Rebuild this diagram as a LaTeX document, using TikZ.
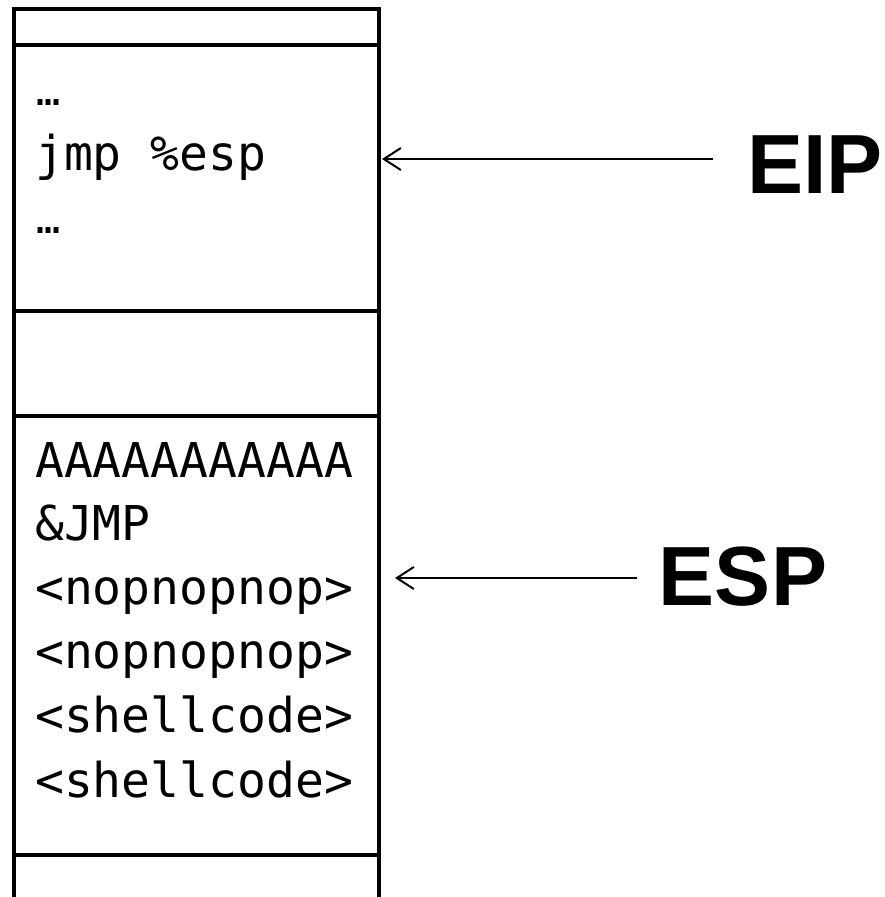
\documentclass[tikz,border=0pt]{standalone}
\usepackage{fontspec}
\newfontfamily\codefont{DejaVu Sans Mono}
\newfontfamily\labfont{Liberation Sans}
\usetikzlibrary{arrows.meta}
\tikzset{
  cell/.style={draw, line width=4.5pt, minimum width=365pt, inner sep=0pt, outer sep=0pt, anchor=north west},
  code/.style={font=\codefont\fontsize{48}{64}\selectfont, anchor=base west, inner sep=0pt},
  dots/.style={font=\codefont\fontsize{40}{64}\selectfont, anchor=base west, inner sep=0pt},
  lab/.style={font=\labfont\bfseries\fontsize{84}{90}\selectfont, inner sep=0pt},
  ptr/.style={line width=2pt, -{Straight Barb[length=17pt,width=22pt,line width=2pt]}}
}
\begin{document}
\begin{tikzpicture}[x=1pt,y=-1pt]
\useasboundingbox (0,0) rectangle (885,897);
% stack cells
\node[cell, minimum height=36pt] (top) at (14,9) {};
\node[cell, minimum height=266pt] (codecell) at (14,45) {};
\node[cell, minimum height=105pt] (gap) at (14,311) {};
\node[cell, minimum height=439pt] (buf) at (14,416) {};
\coordinate (bl) at (14,905);
\coordinate (br) at (379,905);
\draw[line width=4.5pt] (buf.south west) -- (bl);
\draw[line width=4.5pt] (buf.south east) -- (br);
% code text
\node[dots] (c1) at (36,105) {…};
\node[code] (c2) at (35,170) {jmp \%esp};
\node[dots] (c3) at (36,233) {…};
% buffer text
\node[code] (b1) at (35,477) {AAAAAAAAAAA};
\node[code] (b2) at (35,540) {\&JMP};
\node[code] (b3) at (35,604) {<nopnopnop>};
\node[code] (b4) at (35,668) {<nopnopnop>};
\node[code] (b5) at (35,732) {<shellcode>};
\node[code] (b6) at (35,797) {<shellcode>};
% labels
\node[lab] (eip) at (815,165) {EIP};
\node[lab] (esp) at (743,577) {ESP};
\coordinate (eiptail) at (713,159);
\coordinate (eiphead) at (382,159);
\coordinate (esptail) at (637,578);
\coordinate (esphead) at (395,578);
\draw[ptr] (eiptail) -- (eiphead);
\draw[ptr] (esptail) -- (esphead);
\end{tikzpicture}
\end{document}
